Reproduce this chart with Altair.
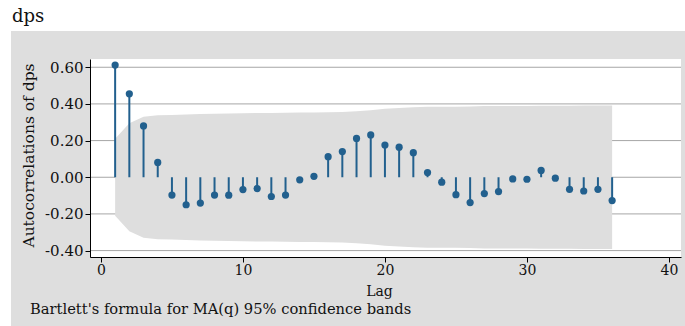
import altair as alt
import pandas as pd

# ---- data ----
lags = list(range(1, 37))
acf = [0.612, 0.455, 0.280, 0.081, -0.097, -0.150, -0.141, -0.097, -0.098, -0.067,
       -0.062, -0.105, -0.097, -0.014, 0.005, 0.112, 0.140, 0.212, 0.231, 0.176,
       0.164, 0.134, 0.026, -0.027, -0.095, -0.138, -0.089, -0.078, -0.009, -0.011,
       0.037, -0.005, -0.066, -0.075, -0.066, -0.127]
band = [0.210, 0.295, 0.330, 0.338, 0.340, 0.342, 0.345, 0.347, 0.348, 0.349,
        0.350, 0.351, 0.352, 0.353, 0.353, 0.354, 0.356, 0.360, 0.366, 0.374,
        0.378, 0.382, 0.384, 0.385, 0.385, 0.386, 0.388, 0.389, 0.389, 0.389,
        0.390, 0.390, 0.390, 0.391, 0.391, 0.392]
y_ticks = [-0.4, -0.2, 0.0, 0.2, 0.4, 0.6]
x_ticks = [0, 10, 20, 30, 40]

FONT = "DejaVu Serif"
BLUE = "#22608e"
GRAY = "#dedede"
TXT = "#111111"
W, H = 591, 198

df = pd.DataFrame({"lag": lags, "ac": acf, "hi": band, "lo": [-b for b in band]})
grid_df = pd.DataFrame({"v": y_ticks})
one = pd.DataFrame({"a": [0]})

xscale = alt.Scale(domain=[-0.77, 40.85], nice=False, zero=False)
yscale = alt.Scale(domain=[-0.435, 0.645], nice=False, zero=False)

xaxis = alt.Axis(values=x_ticks, grid=False, zindex=2, domainColor="#000000", domainWidth=1,
                 tickColor="#000000", tickSize=5, labelFont=FONT, labelFontSize=14,
                 labelColor=TXT, labelPadding=1, labelOverlap=False, title="Lag",
                 titleFont=FONT, titleFontSize=14, titleFontWeight="normal", titleColor=TXT,
                 titleX=289, titleY=38, titleBaseline="alphabetic", titleAlign="center")
yaxis = alt.Axis(values=y_ticks, grid=False, zindex=2, domainColor="#000000", domainWidth=1,
                 tickColor="#000000", tickSize=5, labelFont=FONT, labelFontSize=15,
                 labelColor=TXT, labelPadding=2, labelOverlap=False,
                 labelExpr="replace(format(datum.value, '.2f'), '\u2212', '-')",
                 title="Autocorrelations of dps", titleFont=FONT, titleFontSize=15.5,
                 titleFontWeight="normal", titleColor=TXT, titleAngle=270,
                 titleX=-57, titleY=96, titleBaseline="alphabetic", titleAlign="center")


def X(f):
    return alt.X(f, scale=xscale, axis=xaxis)


def Y(f):
    return alt.Y(f, scale=yscale, axis=yaxis)


frame = alt.Chart(one).mark_rect(color=GRAY, clip=False).encode(
    x=alt.value(-79), x2=alt.value(600), y=alt.value(-28), y2=alt.value(272))
plotbg = alt.Chart(one).mark_rect(color="white").encode(
    x=alt.value(0), x2=alt.value(W), y=alt.value(0), y2=alt.value(H))
grid = alt.Chart(grid_df).mark_rule(color="#a6a6a6", strokeWidth=1).encode(
    y=Y("v:Q"), x=alt.value(0), x2=alt.value(W))
area = alt.Chart(df).mark_area(color=GRAY, opacity=1).encode(
    x=X("lag:Q"), y=Y("lo:Q"), y2="hi:Q")
spikes = alt.Chart(df).mark_rule(color=BLUE, strokeWidth=2).encode(
    x=X("lag:Q"), y=Y("ac:Q"), y2=alt.datum(0))
points = alt.Chart(df).mark_point(filled=True, color=BLUE, size=52, opacity=1).encode(
    x=X("lag:Q"), y=Y("ac:Q"))
title = alt.Chart(one).mark_text(text="dps", font=FONT, fontSize=18, align="left",
                                 baseline="alphabetic", color=TXT).encode(
    x=alt.value(-78), y=alt.value(-37.5))
note = alt.Chart(one).mark_text(text="Bartlett's formula for MA(q) 95% confidence bands",
                                font=FONT, fontSize=14.7, align="left",
                                baseline="alphabetic", color=TXT).encode(
    x=alt.value(-60), y=alt.value(254.5))

chart = alt.layer(frame, plotbg, grid, area, spikes, points, title, note).properties(
    width=W, height=H,
    padding={"left": 90, "top": 59, "right": 4, "bottom": 69},
    autosize=alt.AutoSizeParams(type="none"),
    background="white",
).configure_view(strokeWidth=0)

chart.save("out.html", embed_options={"renderer": "svg", "actions": False})
